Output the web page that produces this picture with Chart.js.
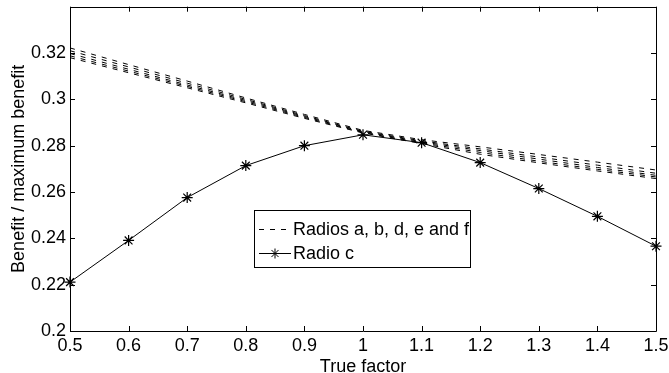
<!DOCTYPE html>
<html>
<head>
<meta charset="utf-8">
<script src="https://cdn.jsdelivr.net/npm/chart.js@4/dist/chart.umd.min.js"></script>
<style>
html,body{margin:0;padding:0;background:#fff;}
#wrap{width:669px;height:373px;position:relative;}
</style>
</head>
<body>
<div id="wrap"><canvas id="c" width="669" height="373"></canvas></div>
<script>
const xValues = [0.5, 0.6, 0.7, 0.8, 0.9, 1.0, 1.1, 1.2, 1.3, 1.4, 1.5];
const radioA = [0.3222, 0.3150, 0.3079, 0.3006, 0.2935, 0.2866, 0.2826, 0.2795, 0.2762, 0.2729, 0.2695];
const radioB = [0.3210, 0.3140, 0.3070, 0.3000, 0.2930, 0.2862, 0.2821, 0.2786, 0.2751, 0.2716, 0.2681];
const radioD = [0.3198, 0.3130, 0.3062, 0.2995, 0.2926, 0.2860, 0.2817, 0.2779, 0.2742, 0.2706, 0.2672];
const radioE = [0.3188, 0.3122, 0.3056, 0.2990, 0.2922, 0.2857, 0.2813, 0.2771, 0.2733, 0.2698, 0.2665];
const radioF = [0.3180, 0.3115, 0.3050, 0.2985, 0.2918, 0.2855, 0.2809, 0.2763, 0.2726, 0.2691, 0.2658];
const radioC = [0.2211, 0.2391, 0.2576, 0.2714, 0.2800, 0.2847, 0.2813, 0.2727, 0.2615, 0.2495, 0.2366];
const xTicks = [0.5, 0.6, 0.7, 0.8, 0.9, 1, 1.1, 1.2, 1.3, 1.4, 1.5];
const yTicks = [0.2, 0.22, 0.24, 0.26, 0.28, 0.3, 0.32];
const legendLabels = ["Radios a, b, d, e and f", "Radio c"];

const FONT = "'Liberation Sans', Arial, Helvetica, sans-serif";
const FS = 18;
const pts = arr => arr.map((v, i) => ({x: xValues[i], y: v}));
const dashedSet = (arr) => ({
  data: pts(arr), borderColor: '#000', borderWidth: 1, borderDash: [5, 6],
  pointRadius: 0, tension: 0, fill: false, clip: false
});

const framePlugin = {
  id: 'frame',
  afterDraw(chart) {
    const ctx = chart.ctx, a = chart.chartArea;
    const xs = chart.scales.x, ys = chart.scales.y;
    ctx.save();
    ctx.strokeStyle = '#000';
    ctx.lineWidth = 1;
    ctx.beginPath();
    ctx.rect(Math.round(a.left) + 0.5, Math.round(a.top) + 0.5,
             Math.round(a.right - a.left), Math.round(a.bottom - a.top));
    ctx.stroke();
    const L = 5;
    ctx.beginPath();
    xTicks.forEach(v => {
      const px = Math.round(xs.getPixelForValue(v)) + 0.5;
      ctx.moveTo(px, a.bottom); ctx.lineTo(px, a.bottom - L);
      ctx.moveTo(px, a.top); ctx.lineTo(px, a.top + L);
    });
    yTicks.forEach(v => {
      const py = Math.round(ys.getPixelForValue(v)) + 0.5;
      ctx.moveTo(a.left, py); ctx.lineTo(a.left + L, py);
      ctx.moveTo(a.right, py); ctx.lineTo(a.right - L, py);
    });
    ctx.stroke();

    // legend box
    const bx = 254.5, by = 210.5, bw = 216, bh = 57;
    ctx.fillStyle = '#fff';
    ctx.fillRect(bx, by, bw, bh);
    ctx.strokeRect(bx, by, bw, bh);
    ctx.font = FS + 'px ' + FONT;
    ctx.fillStyle = '#000';
    ctx.textBaseline = 'middle';
    const rows = [229, 253];
    ctx.setLineDash([5, 6]);
    ctx.beginPath(); ctx.moveTo(259, rows[0] + 0.5); ctx.lineTo(292, rows[0] + 0.5); ctx.stroke();
    ctx.setLineDash([]);
    ctx.beginPath(); ctx.moveTo(259, rows[1] + 0.5); ctx.lineTo(291, rows[1] + 0.5); ctx.stroke();
    const sx = 275, sy = rows[1] + 0.5, r = 5;
    ctx.beginPath();
    for (let k = 0; k < 4; k++) {
      const ang = k * Math.PI / 4;
      ctx.moveTo(sx + r * Math.cos(ang), sy + r * Math.sin(ang));
      ctx.lineTo(sx - r * Math.cos(ang), sy - r * Math.sin(ang));
    }
    ctx.stroke();
    ctx.fillText(legendLabels[0], 293, rows[0] + 1);
    ctx.fillText(legendLabels[1], 293, rows[1] + 1);
    ctx.restore();
  }
};

new Chart(document.getElementById('c'), {
  type: 'line',
  data: {
    datasets: [
      dashedSet(radioA), dashedSet(radioB), dashedSet(radioD), dashedSet(radioE), dashedSet(radioF),
      {
        data: pts(radioC), borderColor: '#000', borderWidth: 1, tension: 0, fill: false,
        pointStyle: 'star', pointRadius: 5.5, pointBorderColor: '#000', pointBorderWidth: 1.2,
        pointBackgroundColor: '#000', clip: false
      }
    ]
  },
  options: {
    responsive: false, animation: false,
    layout: {padding: {left: 0, right: 13, top: 6, bottom: 0}},
    plugins: {legend: {display: false}, tooltip: {enabled: false}},
    scales: {
      x: {
        type: 'linear', min: 0.5, max: 1.5,
        grid: {display: false, drawTicks: false}, border: {display: false},
        afterBuildTicks: s => { s.ticks = xTicks.map(v => ({value: v})); },
        afterFit: s => { s.height = 42; s.paddingRight = 0; s.paddingLeft = 0; },
        ticks: {color: '#000', font: {family: FONT, size: FS, lineHeight: 1}, padding: 6, maxRotation: 0,
                callback: v => String(+v.toFixed(2))},
        title: {display: true, text: 'True factor', color: '#000', font: {family: FONT, size: FS, lineHeight: 1}, padding: {top: 0, bottom: -3}}
      },
      y: {
        type: 'linear', min: 0.2, max: 0.34,
        grid: {display: false, drawTicks: false}, border: {display: false},
        afterBuildTicks: s => { s.ticks = yTicks.map(v => ({value: v})); },
        afterFit: s => { s.width = 70; s.paddingTop = 0; s.paddingBottom = 0; },
        ticks: {color: '#000', font: {family: FONT, size: FS}, padding: 4,
                callback: v => String(+v.toFixed(2))},
        title: {display: true, text: 'Benefit / maximum benefit', color: '#000', font: {family: FONT, size: FS}, padding: {top: 8, bottom: 0}}
      }
    }
  },
  plugins: [framePlugin]
});
</script>
</body>
</html>
